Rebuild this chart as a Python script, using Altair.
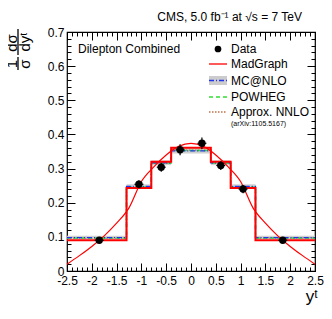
import altair as alt
import pandas as pd

# ---------------- data ----------------
bin_lo = [-2.5, -1.3, -0.8, -0.4, 0.0, 0.4, 0.8, 1.3]
bin_hi = [-1.3, -0.8, -0.4, 0.0, 0.4, 0.8, 1.3, 2.5]
edges = [-2.5, -1.3, -0.8, -0.4, 0.0, 0.4, 0.8, 1.3, 2.5]

data_x = [-1.85, -1.05, -0.6, -0.22, 0.22, 0.6, 1.05, 1.85]
data_y = [0.090, 0.254, 0.304, 0.355, 0.374, 0.309, 0.240, 0.090]
data_err = [0.004, 0.012, 0.013, 0.016, 0.017, 0.013, 0.012, 0.004]
data_xerr = [0.09] * 8

madgraph = [0.090, 0.243, 0.320, 0.361, 0.361, 0.320, 0.243, 0.090]
mcatnlo = [0.098, 0.248, 0.317, 0.352, 0.352, 0.317, 0.248, 0.098]
mcatnlo_err = [0.005, 0.006, 0.007, 0.008, 0.008, 0.007, 0.006, 0.005]
powheg = [0.097, 0.246, 0.316, 0.353, 0.353, 0.316, 0.246, 0.097]
nnlo = [0.096, 0.245, 0.315, 0.354, 0.354, 0.315, 0.245, 0.096]

curve_x = [-2.5, -2.25, -2.0, -1.75, -1.5, -1.25, -1.0, -0.75, -0.5, -0.25, 0.0,
           0.25, 0.5, 0.75, 1.0, 1.25, 1.5, 1.75, 2.0, 2.25, 2.5]
curve_y = [0.020, 0.045, 0.072, 0.103, 0.140, 0.185, 0.262, 0.305, 0.340, 0.365, 0.374,
           0.365, 0.340, 0.305, 0.262, 0.185, 0.140, 0.103, 0.072, 0.045, 0.020]

x_major = [-2.5, -2, -1.5, -1, -0.5, 0, 0.5, 1, 1.5, 2, 2.5]
x_minor = [round(-2.5 + 0.1 * i, 2) for i in range(51)]
y_major = [0, 0.1, 0.2, 0.3, 0.4, 0.5, 0.6, 0.7]
y_minor = [round(0.02 * i, 2) for i in range(36)]

FONT = "Liberation Sans"

def step_df(vals):
    return pd.DataFrame({"x": edges, "y": vals + [vals[-1]]})

bins = pd.DataFrame({"lo": bin_lo, "hi": bin_hi, "mc": mcatnlo, "err": mcatnlo_err})
bins["ylo"] = bins["mc"] - bins["err"]
bins["yhi"] = bins["mc"] + bins["err"]

pts = pd.DataFrame({"x": data_x, "y": data_y, "e": data_err, "xe": data_xerr})
pts["ylo"] = pts["y"] - pts["e"]
pts["yhi"] = pts["y"] + pts["e"]
pts["xlo"] = pts["x"] - pts["xe"]
pts["xhi"] = pts["x"] + pts["xe"]

curve = pd.DataFrame({"x": curve_x, "y": curve_y})
one = pd.DataFrame({"k": [0]})

xs = alt.Scale(domain=[-2.5, 2.5], nice=False, zero=False)
ys = alt.Scale(domain=[0, 0.7], nice=False, zero=False)

def X(field="x", axis=None):
    return alt.X(field, type="quantitative", scale=xs, axis=axis)

def Y(field="y", axis=None):
    return alt.Y(field, type="quantitative", scale=ys, axis=axis)

# bands
band = alt.Chart(bins).mark_rect(color="#cccccc", opacity=0.9).encode(
    x=X("lo"), x2="hi", y=Y("ylo"), y2="yhi")

def step_line(vals, color, width, dash=None):
    kw = dict(interpolate="step-after", color=color, strokeWidth=width)
    if dash:
        kw["strokeDash"] = dash
    return alt.Chart(step_df(vals)).mark_line(**kw).encode(x=X(), y=Y())

nnlo_line = step_line(nnlo, "#c0704a", 1.3, [1.5, 1.5])
powheg_line = step_line(powheg, "#33dd33", 1.5, [4, 3])
mc_line = step_line(mcatnlo, "#2233ee", 1.3, [5, 2, 1, 2])
mg_line = step_line(madgraph, "#ff0000", 2)

curve_line = alt.Chart(curve).mark_line(color="#ff0000", strokeWidth=1.2,
                                        interpolate="monotone").encode(x=X(), y=Y())

verr = alt.Chart(pts).mark_rule(color="black", strokeWidth=1.2).encode(
    x=X("x"), y=Y("ylo"), y2="yhi")
herr = alt.Chart(pts).mark_rule(color="black", strokeWidth=1.2).encode(
    x=X("xlo"), x2="xhi", y=Y("y"))
dots = alt.Chart(pts).mark_circle(color="black", opacity=1, size=55).encode(
    x=X(), y=Y())

# axis carrier layers (ticks drawn inside the frame)
def axis_layer(xorient, yorient, major, labels):
    tsize = 8 if major else 4
    common = dict(grid=False, domain=False, tickSize=tsize, offset=-tsize,
                  tickColor="black", tickWidth=1, title=None)
    xa = alt.Axis(orient=xorient, values=x_major if major else x_minor,
                  labels=labels, labelFont=FONT, labelFontSize=12, labelColor="black",
                  labelPadding=4, labelExpr="'' + datum.value", labelFlush=False,
                  labelOverlap=False, **common)
    ya = alt.Axis(orient=yorient, values=y_major if major else y_minor,
                  labels=labels, labelFont=FONT, labelFontSize=12, labelColor="black",
                  labelPadding=3, labelExpr="'' + datum.value", labelFlush=False,
                  labelOverlap=False, **common)
    return alt.Chart(curve).mark_point(opacity=0).encode(x=X(axis=xa), y=Y(axis=ya))

ax1 = axis_layer("bottom", "left", True, True)
ax2 = axis_layer("bottom", "left", False, False)
ax3 = axis_layer("top", "right", True, False)
ax4 = axis_layer("top", "right", False, False)

# texts
def txt(s, x, y, size=12, align="left", angle=None, baseline="middle"):
    kw = dict(text=s, font=FONT, fontSize=size, align=align, baseline=baseline, color="black")
    if angle is not None:
        kw["angle"] = angle
    return alt.Chart(one).mark_text(**kw).encode(x=alt.value(x), y=alt.value(y))

def vrule(x, y0, y1, color="black", width=1.3, dash=None):
    kw = dict(color=color, strokeWidth=width)
    if dash:
        kw["strokeDash"] = dash
    return alt.Chart(one).mark_rule(**kw).encode(x=alt.value(x), y=alt.value(y0), y2=alt.value(y1))

def hrule(x0, x1, y, color="black", width=1.3, dash=None):
    kw = dict(color=color, strokeWidth=width)
    if dash:
        kw["strokeDash"] = dash
    return alt.Chart(one).mark_rule(**kw).encode(x=alt.value(x0), x2=alt.value(x1), y=alt.value(y))

title = txt("CMS, 5.0 fb⁻¹ at √s = 7 TeV", 235, -15, 12, align="right")
dil = txt("Dilepton Combined", 11, 17, 12)
xtitle = txt("yᵗ", 251, 265, 17, align="right")

# y-axis title: (1/σ)(dσ/dyᵗ)
yt1 = txt("1", -55, 32, 15, align="center", angle=270)
yt2 = txt("σ", -42, 32, 15, align="center", angle=270)
yt3 = txt("dσ", -55, 11, 15, align="center", angle=270)
yt4 = txt("dyᵗ", -42, 10, 15, align="center", angle=270)
yl1 = vrule(-49, 25, 38)
yl2 = vrule(-49, -3, 23)

# legend
lx0, lx1, ltx = 142, 160, 164
leg_dot = alt.Chart(one).mark_circle(color="black", size=45, opacity=1).encode(
    x=alt.value(151), y=alt.value(17))
leg_mg = hrule(lx0, lx1, 32, "#ff0000", 1.3)
leg_mcbox = alt.Chart(one).mark_rect(color="#cccccc").encode(
    x=alt.value(lx0), x2=alt.value(lx1), y=alt.value(44), y2=alt.value(53))
leg_mc = hrule(lx0, lx1, 48.5, "#2233ee", 1.3, [5, 2, 1, 2])
leg_pw = hrule(lx0, lx1, 65, "#33dd33", 1.5, [4, 3])
leg_nn = hrule(lx0, lx1, 80, "#c0704a", 1.3, [1.5, 1.5])
leg_t1 = txt("Data", ltx, 17, 12)
leg_t2 = txt("MadGraph", ltx, 32, 12)
leg_t3 = txt("MC@NLO", ltx, 48.5, 12)
leg_t4 = txt("POWHEG", ltx, 65, 12)
leg_t5 = txt("Approx. NNLO", ltx, 80, 12)
leg_t6 = txt("(arXiv:1105.5167)", ltx, 92, 7)

chart = alt.layer(
    band, nnlo_line, powheg_line, mc_line, mg_line, curve_line,
    verr, herr, dots,
    ax1, ax2, ax3, ax4,
    title, dil, xtitle, yt1, yt2, yt3, yt4, yl1, yl2,
    leg_dot, leg_mcbox, leg_mg, leg_mc, leg_pw, leg_nn,
    leg_t1, leg_t2, leg_t3, leg_t4, leg_t5, leg_t6,
).resolve_axis(x="independent", y="independent").properties(
    width=248, height=239,
    autosize=alt.AutoSizeParams(type="none"),
    padding={"left": 59, "top": 24, "right": 9, "bottom": 40},
    background="white",
).configure_view(stroke="black", strokeWidth=1.2)

chart.save("out.html", embed_options={"renderer": "svg", "actions": False})
